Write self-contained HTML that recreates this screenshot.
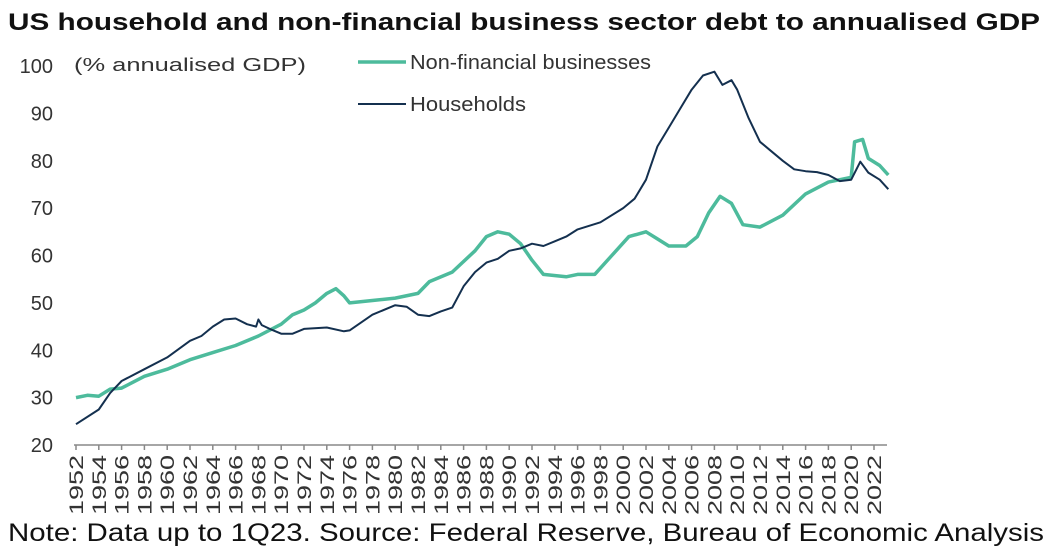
<!DOCTYPE html>
<html><head><meta charset="utf-8"><style>
body{margin:0;background:#fff;width:1057px;height:555px;overflow:hidden;font-family:"Liberation Sans",sans-serif}
</style></head><body>
<svg id="c" width="1057" height="555" xmlns="http://www.w3.org/2000/svg">
<text x="8" y="30" font-size="24" font-weight="bold" fill="#111" textLength="1032" lengthAdjust="spacingAndGlyphs">US household and non-financial business sector debt to annualised GDP</text>
<text x="74" y="71" font-size="18" fill="#333" textLength="232" lengthAdjust="spacingAndGlyphs">(% annualised GDP)</text>
<g>
<line x1="358" y1="62" x2="406" y2="62" stroke="#4dbb9c" stroke-width="3.5"/>
<text x="410" y="69" font-size="20" fill="#333" textLength="241" lengthAdjust="spacingAndGlyphs">Non-financial businesses</text>
<line x1="358" y1="104" x2="406" y2="104" stroke="#14304f" stroke-width="2"/>
<text x="410" y="111" font-size="20" fill="#333" textLength="116" lengthAdjust="spacingAndGlyphs">Households</text>
</g>
<g id="axes"></g>
<g id="series"></g>
<text x="8" y="541" font-size="25" fill="#111" textLength="1036" lengthAdjust="spacingAndGlyphs">Note: Data up to 1Q23. Source: Federal Reserve, Bureau of Economic Analysis</text>
</svg>
<script>
const yTicks=[20,30,40,50,60,70,80,90,100];
const xTickYears=[];for(let y=1952;y<=2022;y+=2)xTickYears.push(y);
const hhYears=[1952,1954,1955,1956,1958,1960,1962,1963,1964,1965,1966,1967,1967.8,1968,1968.3,1969,1970,1971,1972,1974,1975.5,1976,1978,1980,1981,1982,1983,1984,1985,1986,1987,1988,1989,1990,1991,1992,1993,1994,1995,1996,1998,2000,2001,2002,2003,2004,2005,2006,2007,2008,2008.7,2009.5,2010,2011,2012,2013,2014,2015,2016,2017,2018,2019,2020,2020.8,2021.5,2022.5,2023.25];
const hhValues=[24.4,27.5,31,33.5,36,38.5,42,43,45,46.5,46.7,45.5,45,46.5,45.3,44.5,43.5,43.5,44.5,44.8,44,44.2,47.5,49.5,49.2,47.5,47.2,48.2,49,53.5,56.5,58.5,59.3,61,61.5,62.5,62,63,64,65.5,67,70,72,76,83,87,91,95,98,98.8,96,97,95,89,84,82,80,78.2,77.8,77.6,77,75.7,76,79.8,77.5,76,74];
const nfYears=[1952,1953,1954,1955,1956,1958,1960,1962,1964,1966,1968,1970,1971,1972,1973,1974,1974.8,1975.5,1976,1978,1980,1982,1983,1985,1987,1988,1989,1990,1991,1992,1993,1995,1996,1997.5,1999,2000.5,2002,2003,2004,2005.5,2006.5,2007.5,2008.5,2009.5,2010.5,2012,2014,2016,2018,2019,2020,2020.3,2021,2021.5,2022.5,2023.25];
const nfValues=[30,30.5,30.3,31.8,32,34.5,36,38,39.5,41,43,45.5,47.5,48.5,50,52,53,51.5,50,50.5,51,52,54.5,56.5,61,64,65,64.5,62.5,59,56,55.5,56,56,60,64,65,63.5,62,62,64,69,72.5,71,66.5,66,68.5,73,75.5,76,76.5,84,84.5,80.5,79,77];
const X0=76,X1=874,Y0=445,Y1=66;
const xs=yr=>X0+(yr-1952)*(X1-X0)/70;
const ys=v=>Y0-(v-20)*(Y0-Y1)/80;
const NS="http://www.w3.org/2000/svg";
const ax=document.getElementById('axes'),sr=document.getElementById('series');
function mk(tag,attrs,parent){const e=document.createElementNS(NS,tag);for(const k in attrs)e.setAttribute(k,attrs[k]);parent.appendChild(e);return e;}
yTicks.forEach(v=>{const t=mk('text',{x:53,y:ys(v)+7,'text-anchor':'end','font-size':20,fill:'#333'},ax);t.textContent=v;

});
const axl=mk('line',{x1:X0-2,x2:887,y1:Y0,y2:Y0,stroke:'#888','stroke-width':1.5},ax);


xTickYears.forEach(yr=>{const x=xs(yr);const tk=mk('line',{x1:x,x2:x,y1:Y0,y2:Y0+5,stroke:'#888','stroke-width':1.5},ax);


const t=mk('text',{transform:`translate(${x+7},${Y0+10}) rotate(-90)`,'text-anchor':'end','font-size':19,fill:'#333',textLength:60,lengthAdjust:'spacingAndGlyphs'},ax);t.textContent=yr;

});
function line(yrs,vals,col,w,name){const d=yrs.map((y,i)=>(i?'L':'M')+xs(y).toFixed(1)+','+ys(vals[i]).toFixed(1)).join('');
const p=mk('path',{d:d,fill:'none',stroke:col,'stroke-width':w,'stroke-linejoin':'round'},sr);

}
line(nfYears,nfValues,'#4dbb9c',3.5,'business-debt-line');
line(hhYears,hhValues,'#14304f',2,'household-debt-line');
</script>
</body></html>
